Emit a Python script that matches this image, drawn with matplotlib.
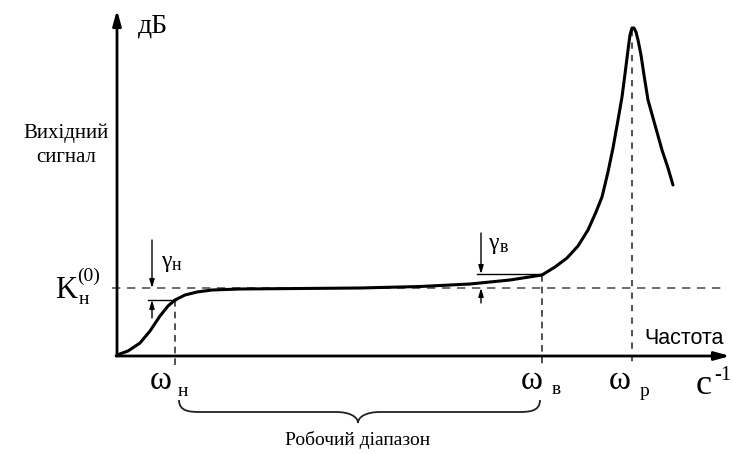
import matplotlib
matplotlib.use("Agg")
import matplotlib.pyplot as plt
import numpy as np
from matplotlib.path import Path
from matplotlib.patches import PathPatch

# Curve points (x, y) in picture units (y grows downward)
curve_x = [117, 128, 140, 150, 160, 168, 175, 185, 197, 212, 240, 300, 360, 420, 470, 510, 542,
           555, 567, 578, 588, 596, 602, 608, 613, 618, 622, 625, 628, 630, 632, 634, 636,
           638, 641, 644, 648, 655, 662, 668, 673]
curve_y = [355, 351, 343, 331, 316, 306, 300, 295, 292, 290, 289, 288.5, 288, 286.5, 284, 280, 275,
           267, 258, 246, 230, 212, 197, 172, 148, 120, 97, 74, 50, 35, 28, 28, 32,
           40, 55, 75, 100, 125, 150, 168, 185]

k_level = 288
w_n, w_v, w_p = 175, 542, 632
serif = ['Liberation Serif', 'DejaVu Serif']

fig = plt.figure(figsize=(7.33, 4.54), dpi=100)
ax = fig.add_axes([0, 0, 1, 1])
ax.set_xlim(0, 733)
ax.set_ylim(454, 0)
ax.axis('off')

# axes arrows
ax.annotate('', xy=(117, 10), xytext=(117, 356),
            arrowprops=dict(arrowstyle='-|>,head_length=0.9,head_width=0.25', lw=2, color='black',
                            shrinkA=0, shrinkB=0))
ax.annotate('', xy=(730, 356), xytext=(116, 356),
            arrowprops=dict(arrowstyle='-|>,head_length=0.9,head_width=0.25', lw=2, color='black',
                            shrinkA=0, shrinkB=0))

# dashed K level
ax.plot([112, 722], [k_level, k_level], ls=(0, (5, 4)), color='#555555', lw=1.2)
# vertical dashed lines
ax.plot([w_n, w_n], [300, 366], ls=(0, (4, 3)), color='#333333', lw=1.2)
ax.plot([w_v, w_v], [275, 366], ls=(0, (4, 3)), color='#333333', lw=1.2)
ax.plot([w_p, w_p], [30, 366], ls=(0, (3, 3)), color='#555555', lw=1.5)

# main curve
ax.plot(curve_x, curve_y, color='black', lw=2.2, solid_capstyle='round', solid_joinstyle='round')

# gamma_n annotation
ax.plot([148, 176], [300, 300], color='black', lw=1)
ax.annotate('', xy=(152, k_level), xytext=(152, 240),
            arrowprops=dict(arrowstyle='-|>,head_length=0.5,head_width=0.15', lw=1, color='black',
                            shrinkA=0, shrinkB=0))
ax.annotate('', xy=(152, 300), xytext=(152, 318),
            arrowprops=dict(arrowstyle='-|>,head_length=0.5,head_width=0.15', lw=1, color='black',
                            shrinkA=0, shrinkB=0))
ax.text(161, 262, 'γ', fontsize=17, family=serif, va='center', ha='left')
ax.text(172, 266, 'н', fontsize=13, family=serif, va='center', ha='left')

# gamma_v annotation
ax.plot([477, 542], [274, 274], color='black', lw=1)
ax.annotate('', xy=(481, 274), xytext=(481, 233),
            arrowprops=dict(arrowstyle='-|>,head_length=0.5,head_width=0.15', lw=1, color='black',
                            shrinkA=0, shrinkB=0))
ax.annotate('', xy=(481, k_level), xytext=(481, 303),
            arrowprops=dict(arrowstyle='-|>,head_length=0.5,head_width=0.15', lw=1, color='black',
                            shrinkA=0, shrinkB=0))
ax.text(488, 243, 'γ', fontsize=17, family=serif, va='center', ha='left')
ax.text(500, 247, 'в', fontsize=13, family=serif, va='center', ha='left')

# texts
ax.text(138, 26, 'дБ', fontsize=20, family=serif, va='center', ha='left')
ax.text(66, 145, 'Вихідний\nсигнал', fontsize=15, family=serif, va='center', ha='center',
        linespacing=1.35)
ax.text(55, 290, 'K', fontsize=22, family=serif, va='center', ha='left')
ax.text(77, 276, '(0)', fontsize=14, family=serif, va='center', ha='left')
ax.text(79, 300, 'н', fontsize=14, family=serif, va='center', ha='left')
ax.text(644, 338, 'Частота', fontsize=15.5, family=['Liberation Sans', 'DejaVu Sans'], va='center', ha='left')
ax.text(696, 385, 'с', fontsize=26, family=serif, va='center', ha='left')
ax.text(714, 376, '-1', fontsize=15, family=serif, va='center', ha='left')

ax.text(150, 381, 'ω', fontsize=24, family=serif, va='center', ha='left')
ax.text(178, 392, 'н', fontsize=14, family=serif, va='center', ha='left')
ax.text(521, 381, 'ω', fontsize=24, family=serif, va='center', ha='left')
ax.text(552, 390, 'в', fontsize=14, family=serif, va='center', ha='left')
ax.text(609, 381, 'ω', fontsize=24, family=serif, va='center', ha='left')
ax.text(640, 392, 'р', fontsize=14, family=serif, va='center', ha='left')

# brace
xl, xr, xm = 179, 540, 358
yb, yc, yt = 400, 412, 423
verts = [(xl, yb), (xl, yc), (xl + 12, yc), (xl + 22, yc),
         (xm - 22, yc), (xm - 8, yc), (xm, yt - 6), (xm, yt),
         (xm, yt - 6), (xm + 8, yc), (xm + 22, yc),
         (xr - 22, yc), (xr - 12, yc), (xr, yc), (xr, yb)]
codes = [Path.MOVETO, Path.CURVE4, Path.CURVE4, Path.CURVE4,
         Path.LINETO, Path.CURVE4, Path.CURVE4, Path.CURVE4,
         Path.CURVE4, Path.CURVE4, Path.CURVE4,
         Path.LINETO, Path.CURVE4, Path.CURVE4, Path.CURVE4]
ax.add_patch(PathPatch(Path(verts, codes), fill=False, lw=1.3, color='#222222'))
ax.text(358, 440, 'Робочий діапазон', fontsize=14, family=serif, va='center', ha='center')

fig.savefig('out.png', dpi=100)
